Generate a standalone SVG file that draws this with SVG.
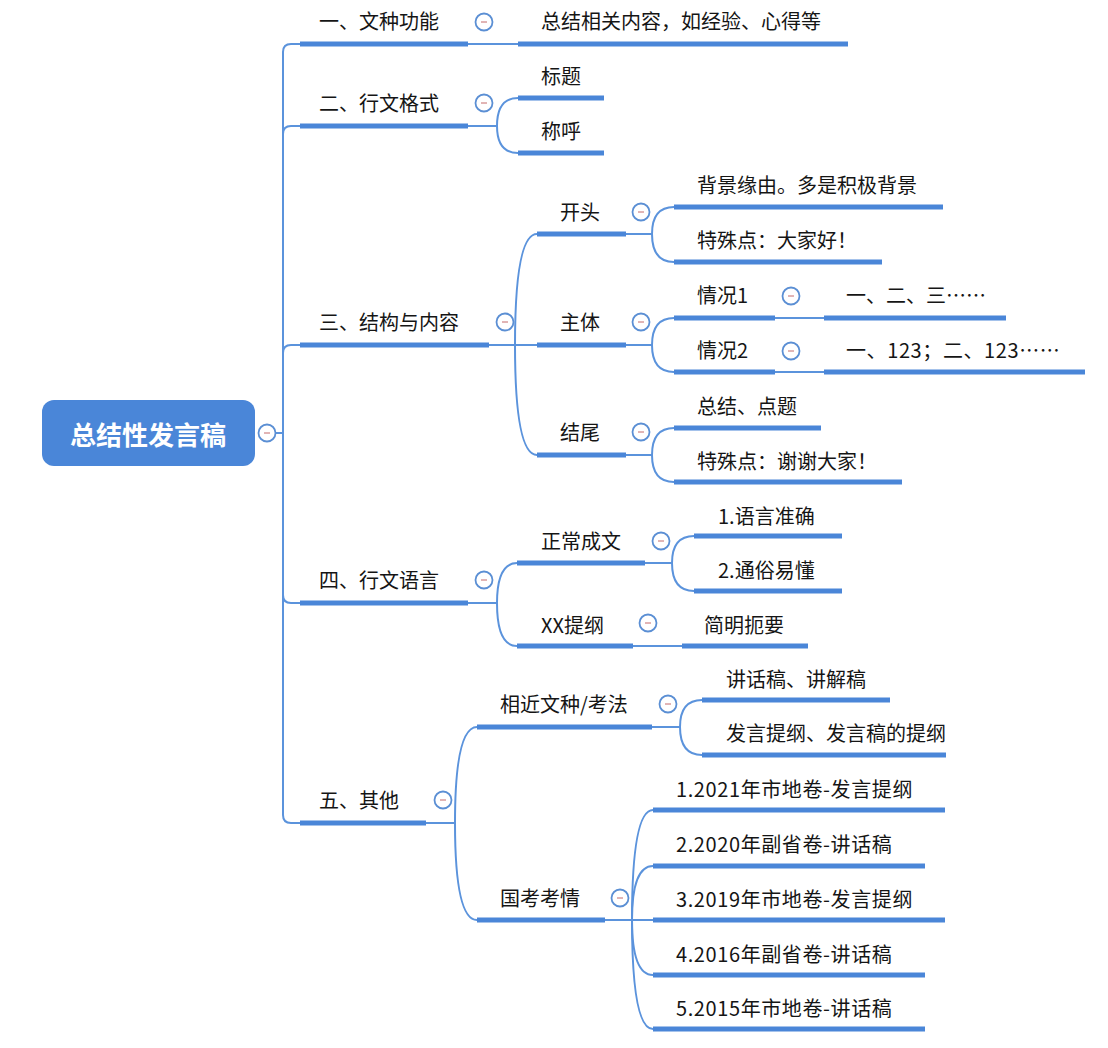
<svg xmlns="http://www.w3.org/2000/svg" width="1108" height="1048" viewBox="0 0 1108 1048">
<style>
.ul{stroke:#4a86d8;stroke-width:5;fill:none;stroke-linecap:butt}
.cn{stroke:#5b93dc;stroke-width:2;fill:none}
.t{font-family:"Noto Sans CJK SC","Noto Sans",sans-serif;font-size:20px;font-weight:normal;fill:#151515}
.n{letter-spacing:0.6px}
.rt{font-family:"Noto Sans CJK SC","Noto Sans",sans-serif;font-size:26px;font-weight:bold;fill:#ffffff}
.tog circle{fill:#ffffff;stroke:#5b8fd4;stroke-width:1.8}
.tog line{stroke:#c46a6a;stroke-width:1}
</style>
<defs>
<g id="tg" class="tog"><circle cx="0" cy="0" r="8.5"/><line x1="-3" y1="0" x2="3" y2="0"/></g>
</defs>
<rect x="0" y="0" width="1108" height="1048" fill="#ffffff"/>

<g id="connectors">
<path class="cn" d="M275 433 H283"/>
<path class="cn" d="M283 433 V52 Q283 44 291 44 H300"/>
<path class="cn" d="M283 433 V134 Q283 126 291 126 H300"/>
<path class="cn" d="M283 433 V353 Q283 345 291 345 H300"/>
<path class="cn" d="M283 433 V595 Q283 603 291 603 H300"/>
<path class="cn" d="M283 433 V815 Q283 823 291 823 H300"/>
<path class="cn" d="M468 44 H518"/>
<path class="cn" d="M468 126 H497 Q497 98 518 98"/>
<path class="cn" d="M497 126 Q497 153 518 153"/>
<path class="cn" d="M489 345 H537"/>
<path class="cn" d="M515 345 Q515 234 537 234"/>
<path class="cn" d="M515 345 Q515 455 537 455"/>
<path class="cn" d="M626 234 H652 Q652 207 674 207"/>
<path class="cn" d="M652 234 Q652 262 674 262"/>
<path class="cn" d="M626 345 H652 Q652 318 674 318"/>
<path class="cn" d="M652 345 Q652 372 674 372"/>
<path class="cn" d="M626 455 H652 Q652 428 674 428"/>
<path class="cn" d="M652 455 Q652 482 674 482"/>
<path class="cn" d="M775 318 H824"/>
<path class="cn" d="M775 372 H824"/>
<path class="cn" d="M468 603 H497 Q497 563 517 563"/>
<path class="cn" d="M497 603 Q497 646 517 646"/>
<path class="cn" d="M645 563 H672 Q672 536 694 536"/>
<path class="cn" d="M672 563 Q672 591 694 591"/>
<path class="cn" d="M633 646 H682"/>
<path class="cn" d="M426 823 H455 Q455 727 477 727"/>
<path class="cn" d="M455 823 Q455 920 477 920"/>
<path class="cn" d="M652 727 H680 Q680 700 702 700"/>
<path class="cn" d="M680 727 Q680 755 702 755"/>
<path class="cn" d="M605 920 H653"/>
<path class="cn" d="M632 920 Q632 810 653 810"/>
<path class="cn" d="M632 920 Q632 866 653 866"/>
<path class="cn" d="M632 920 Q632 975 653 975"/>
<path class="cn" d="M632 920 Q632 1029 653 1029"/>
</g>

<g id="root">
<rect x="42" y="400" width="213" height="66" rx="12" fill="#4a86d8"/>
<text class="rt" x="148" y="445" text-anchor="middle">总结性发言稿</text>
<use href="#tg" x="267" y="433"/>
</g>

<g id="n1"><text class="t" x="319" y="29">一、文种功能</text><line class="ul" x1="300" y1="44" x2="468" y2="44"/><use href="#tg" x="484" y="22"/></g>
<g id="n1a"><text class="t" x="541" y="29">总结相关内容，如经验、心得等</text><line class="ul" x1="518" y1="44" x2="848" y2="44"/></g>

<g id="n2"><text class="t" x="319" y="111">二、行文格式</text><line class="ul" x1="300" y1="126" x2="468" y2="126"/><use href="#tg" x="484" y="103"/></g>
<g id="n2a"><text class="t" x="541" y="84">标题</text><line class="ul" x1="518" y1="98" x2="604" y2="98"/></g>
<g id="n2b"><text class="t" x="541" y="139">称呼</text><line class="ul" x1="518" y1="153" x2="604" y2="153"/></g>

<g id="n3"><text class="t" x="319" y="330">三、结构与内容</text><line class="ul" x1="300" y1="345" x2="489" y2="345"/><use href="#tg" x="505" y="322"/></g>
<g id="n3a"><text class="t" x="560" y="220">开头</text><line class="ul" x1="537" y1="234" x2="626" y2="234"/><use href="#tg" x="641" y="212"/></g>
<g id="n3a1"><text class="t" x="697" y="193">背景缘由。多是积极背景</text><line class="ul" x1="674" y1="207" x2="943" y2="207"/></g>
<g id="n3a2"><text class="t" x="697" y="248">特殊点：大家好！</text><line class="ul" x1="674" y1="262" x2="882" y2="262"/></g>
<g id="n3b"><text class="t" x="560" y="330">主体</text><line class="ul" x1="537" y1="345" x2="626" y2="345"/><use href="#tg" x="641" y="322"/></g>
<g id="n3b1"><text class="t" x="697" y="303">情况1</text><line class="ul" x1="674" y1="318" x2="775" y2="318"/><use href="#tg" x="791" y="296"/></g>
<g id="n3b1a"><text class="t" x="846" y="303">一、二、三……</text><line class="ul" x1="824" y1="318" x2="1006" y2="318"/></g>
<g id="n3b2"><text class="t" x="697" y="358">情况2</text><line class="ul" x1="674" y1="372" x2="775" y2="372"/><use href="#tg" x="791" y="351"/></g>
<g id="n3b2a"><text class="t n" x="846" y="358">一、123；二、123……</text><line class="ul" x1="824" y1="372" x2="1085" y2="372"/></g>
<g id="n3c"><text class="t" x="560" y="440">结尾</text><line class="ul" x1="537" y1="455" x2="626" y2="455"/><use href="#tg" x="641" y="432"/></g>
<g id="n3c1"><text class="t" x="697" y="414">总结、点题</text><line class="ul" x1="674" y1="428" x2="821" y2="428"/></g>
<g id="n3c2"><text class="t" x="697" y="469">特殊点：谢谢大家！</text><line class="ul" x1="674" y1="482" x2="902" y2="482"/></g>

<g id="n4"><text class="t" x="319" y="588">四、行文语言</text><line class="ul" x1="300" y1="603" x2="468" y2="603"/><use href="#tg" x="484" y="580"/></g>
<g id="n4a"><text class="t" x="541" y="549">正常成文</text><line class="ul" x1="517" y1="563" x2="645" y2="563"/><use href="#tg" x="661" y="541"/></g>
<g id="n4a1"><text class="t" x="718" y="524">1.语言准确</text><line class="ul" x1="694" y1="536" x2="842" y2="536"/></g>
<g id="n4a2"><text class="t" x="718" y="578">2.通俗易懂</text><line class="ul" x1="694" y1="591" x2="842" y2="591"/></g>
<g id="n4b"><text class="t" x="541" y="633">XX提纲</text><line class="ul" x1="517" y1="646" x2="633" y2="646"/><use href="#tg" x="648" y="623"/></g>
<g id="n4b1"><text class="t" x="704" y="633">简明扼要</text><line class="ul" x1="682" y1="646" x2="808" y2="646"/></g>

<g id="n5"><text class="t" x="319" y="808">五、其他</text><line class="ul" x1="300" y1="823" x2="426" y2="823"/><use href="#tg" x="443" y="800"/></g>
<g id="n5a"><text class="t" x="500" y="712">相近文种/考法</text><line class="ul" x1="477" y1="727" x2="652" y2="727"/><use href="#tg" x="668" y="704"/></g>
<g id="n5a1"><text class="t" x="726" y="687">讲话稿、讲解稿</text><line class="ul" x1="702" y1="700" x2="890" y2="700"/></g>
<g id="n5a2"><text class="t" x="726" y="741">发言提纲、发言稿的提纲</text><line class="ul" x1="702" y1="755" x2="946" y2="755"/></g>
<g id="n5b"><text class="t" x="500" y="906">国考考情</text><line class="ul" x1="477" y1="920" x2="605" y2="920"/><use href="#tg" x="620" y="898"/></g>
<g id="n5b1"><text class="t n" x="676" y="797">1.2021年市地卷-发言提纲</text><line class="ul" x1="653" y1="810" x2="945" y2="810"/></g>
<g id="n5b2"><text class="t n" x="676" y="852">2.2020年副省卷-讲话稿</text><line class="ul" x1="653" y1="866" x2="925" y2="866"/></g>
<g id="n5b3"><text class="t n" x="676" y="907">3.2019年市地卷-发言提纲</text><line class="ul" x1="653" y1="920" x2="945" y2="920"/></g>
<g id="n5b4"><text class="t n" x="676" y="962">4.2016年副省卷-讲话稿</text><line class="ul" x1="653" y1="975" x2="925" y2="975"/></g>
<g id="n5b5"><text class="t n" x="676" y="1016">5.2015年市地卷-讲话稿</text><line class="ul" x1="653" y1="1029" x2="925" y2="1029"/></g>
</svg>
